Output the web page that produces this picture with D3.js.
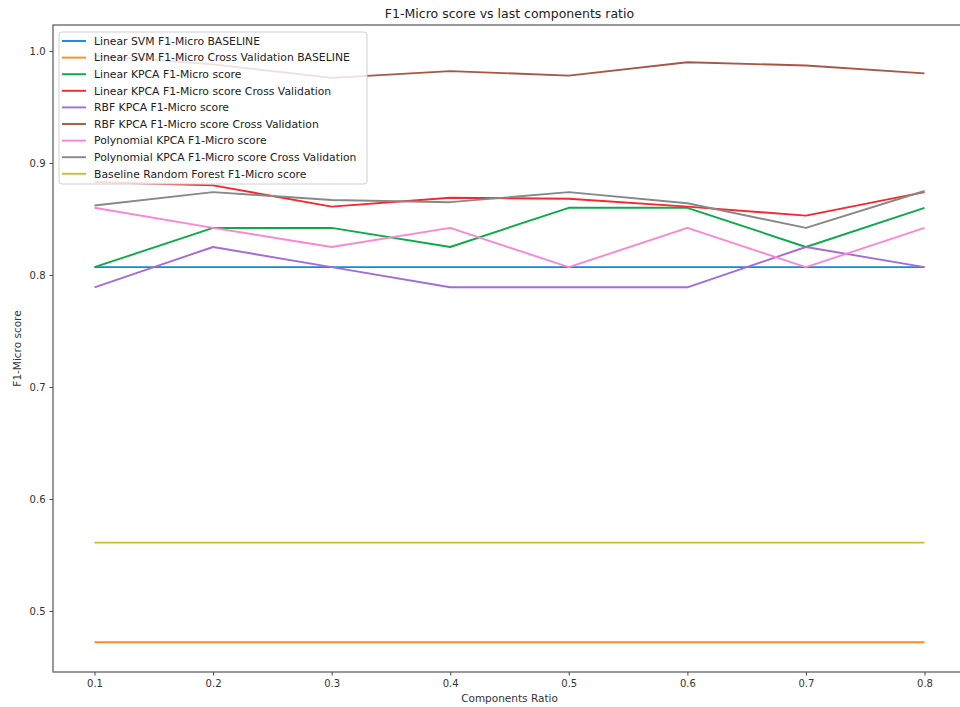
<!DOCTYPE html>
<html>
<head>
<meta charset="utf-8">
<script src="https://cdn.jsdelivr.net/npm/d3@7"></script>
<style>
  html, body { margin: 0; padding: 0; background: #fff; }
  svg { display: block; font-family: "DejaVu Sans", sans-serif; }
</style>
</head>
<body>
<svg id="chart" width="960" height="707"></svg>
<script>
// Components ratio on the x axis
const ratios = [0.1, 0.2, 0.3, 0.4, 0.5, 0.6, 0.7, 0.8];

// F1-micro scores per configuration
const svmBaseline       = [0.807, 0.807, 0.807, 0.807, 0.807, 0.807, 0.807, 0.807];
const svmCvBaseline     = [0.472, 0.472, 0.472, 0.472, 0.472, 0.472, 0.472, 0.472];
const linearKpca        = [0.807, 0.842, 0.842, 0.825, 0.860, 0.860, 0.825, 0.860];
const linearKpcaCv      = [0.883, 0.880, 0.861, 0.869, 0.868, 0.861, 0.853, 0.874];
const rbfKpca           = [0.789, 0.825, 0.807, 0.789, 0.789, 0.789, 0.825, 0.807];
const rbfKpcaCv         = [0.996, 0.988, 0.976, 0.982, 0.978, 0.990, 0.987, 0.980];
const polyKpca          = [0.860, 0.842, 0.825, 0.842, 0.807, 0.842, 0.807, 0.842];
const polyKpcaCv        = [0.862, 0.874, 0.867, 0.865, 0.874, 0.864, 0.842, 0.875];
const randomForestBase  = [0.561, 0.561, 0.561, 0.561, 0.561, 0.561, 0.561, 0.561];

const seriesNames = [
  "Linear SVM F1-Micro BASELINE",
  "Linear SVM F1-Micro Cross Validation BASELINE",
  "Linear KPCA F1-Micro score",
  "Linear KPCA F1-Micro score Cross Validation",
  "RBF KPCA F1-Micro score",
  "RBF KPCA F1-Micro score Cross Validation",
  "Polynomial KPCA F1-Micro score",
  "Polynomial KPCA F1-Micro score Cross Validation",
  "Baseline Random Forest F1-Micro score"
];
const seriesValues = [svmBaseline, svmCvBaseline, linearKpca, linearKpcaCv,
  rbfKpca, rbfKpcaCv, polyKpca, polyKpcaCv, randomForestBase];
const seriesColors = ["#0f8bd6", "#ff8a20", "#0daa48", "#f6282a", "#a46cd6",
  "#a85648", "#fc86d2", "#888888", "#c4c026"];

const xTicks = [0.1, 0.2, 0.3, 0.4, 0.5, 0.6, 0.7, 0.8];
const yTicks = [0.5, 0.6, 0.7, 0.8, 0.9, 1.0];

const svg = d3.select("#chart");
const plot = { left: 53, right: 966, top: 25, bottom: 672 };

const x = d3.scaleLinear().domain([0.065, 0.835]).range([plot.left, plot.right]);
const y = d3.scaleLinear().domain([0.4455, 1.0232]).range([plot.bottom, plot.top]);

const spineColor = "#555";

// Series lines
const line = d3.line().x((d, i) => x(ratios[i])).y(d => y(d));
const lines = svg.append("g");
seriesValues.forEach((vals, k) => {
  lines.append("path")
    .datum(vals)
    .attr("d", line)
    .attr("fill", "none")
    .attr("stroke", seriesColors[k])
    .attr("stroke-width", 1.9)
    .attr("stroke-linejoin", "round");
});

// Frame
svg.append("rect")
  .attr("x", plot.left).attr("y", plot.top)
  .attr("width", plot.right - plot.left).attr("height", plot.bottom - plot.top)
  .attr("fill", "none").attr("stroke", spineColor).attr("stroke-width", 1.2);

// Axes
const xAxis = d3.axisBottom(x).tickValues(xTicks).tickSize(3.5).tickPadding(4)
  .tickFormat(d3.format(".1f"));
const gx = svg.append("g").attr("transform", `translate(0,${plot.bottom})`).call(xAxis);
gx.select(".domain").remove();

const yAxis = d3.axisLeft(y).tickValues(yTicks).tickSize(3.5).tickPadding(4)
  .tickFormat(d3.format(".1f"));
const gy = svg.append("g").attr("transform", `translate(${plot.left},0)`).call(yAxis);
gy.select(".domain").remove();

[gx, gy].forEach(g => {
  g.selectAll(".tick line").attr("stroke", spineColor).attr("stroke-width", 1.1);
  g.selectAll(".tick text").attr("fill", "#333").style("font-size", "10px")
    .style("font-family", "DejaVu Sans, sans-serif");
});

// Labels and title
svg.append("text")
  .attr("x", (plot.left + plot.right) / 2).attr("y", 702)
  .attr("text-anchor", "middle").attr("fill", "#333")
  .style("font-size", "10.5px")
  .text("Components Ratio");

svg.append("text")
  .attr("transform", `translate(21,${(plot.top + plot.bottom) / 2}) rotate(-90)`)
  .attr("text-anchor", "middle").attr("fill", "#333")
  .style("font-size", "10.5px")
  .text("F1-Micro score");

svg.append("text")
  .attr("x", (plot.left + plot.right) / 2).attr("y", 18)
  .attr("text-anchor", "middle").attr("fill", "#222")
  .style("font-size", "12.5px")
  .text("F1-Micro score vs last components ratio");

// Legend
const legend = svg.append("g").attr("transform", "translate(59,32)");
legend.append("rect")
  .attr("x", 0).attr("y", 0).attr("width", 308).attr("height", 152)
  .attr("rx", 3).attr("ry", 3)
  .attr("fill", "rgba(255,255,255,0.82)")
  .attr("stroke", "#d0d0d0").attr("stroke-width", 1);

const rowH = 16.6;
seriesNames.forEach((name, k) => {
  const cy = 9 + k * rowH;
  legend.append("line")
    .attr("x1", 3).attr("x2", 27).attr("y1", cy).attr("y2", cy)
    .attr("stroke", seriesColors[k]).attr("stroke-width", 1.9);
  legend.append("text")
    .attr("x", 35).attr("y", cy).attr("dy", "0.35em")
    .attr("fill", "#222")
    .style("font-size", "10.8px")
    .text(name);
});
</script>
</body>
</html>
